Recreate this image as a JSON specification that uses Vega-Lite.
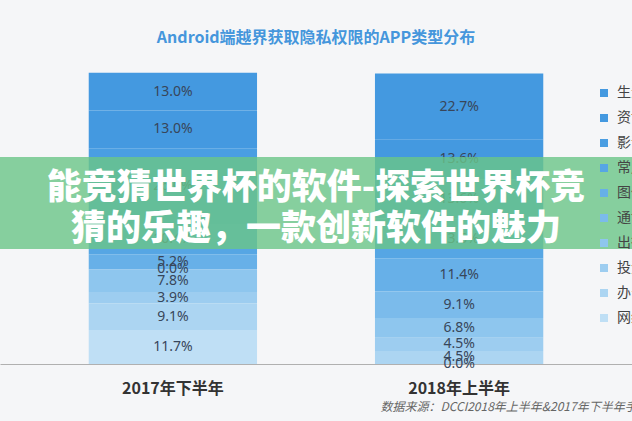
{
  "$schema": "https://vega.github.io/schema/vega-lite/v6.json",
  "width": 632,
  "height": 291,
  "autosize": {"type": "none"},
  "padding": {"top": 73, "bottom": 57, "left": 0, "right": 0},
  "background": "#f5f6f8",
  "title": {
    "text": "Android端越界获取隐私权限的APP类型分布",
    "anchor": "middle",
    "font": "Noto Sans CJK SC",
    "fontSize": 16,
    "fontWeight": "bold",
    "color": "#4596dc",
    "offset": 27
  },
  "config": {"view": {"stroke": null}},
  "datasets": {
    "share": [
      {"period": "2017年下半年", "cat": "生活服务", "idx": 1, "pct": 13.0, "label": "13.0%"},
      {"period": "2017年下半年", "cat": "资讯阅读", "idx": 2, "pct": 13.0, "label": "13.0%"},
      {"period": "2017年下半年", "cat": "影音视听", "idx": 3, "pct": 26.0, "label": "26.0%"},
      {"period": "2017年下半年", "cat": "常用工具", "idx": 4, "pct": 10.4, "label": "10.4%"},
      {"period": "2017年下半年", "cat": "图像拍照", "idx": 5, "pct": 5.2, "label": "5.2%"},
      {"period": "2017年下半年", "cat": "通讯社交", "idx": 6, "pct": 0.0, "label": "0.0%"},
      {"period": "2017年下半年", "cat": "出行导航", "idx": 7, "pct": 7.8, "label": "7.8%"},
      {"period": "2017年下半年", "cat": "投资理财", "idx": 8, "pct": 3.9, "label": "3.9%"},
      {"period": "2017年下半年", "cat": "办公商务", "idx": 9, "pct": 9.1, "label": "9.1%"},
      {"period": "2017年下半年", "cat": "网络购物", "idx": 10, "pct": 11.7, "label": "11.7%"},
      {"period": "2018年上半年", "cat": "生活服务", "idx": 1, "pct": 22.7, "label": "22.7%"},
      {"period": "2018年上半年", "cat": "资讯阅读", "idx": 2, "pct": 13.6, "label": "13.6%"},
      {"period": "2018年上半年", "cat": "影音视听", "idx": 3, "pct": 13.6, "label": "13.6%"},
      {"period": "2018年上半年", "cat": "常用工具", "idx": 4, "pct": 13.6, "label": "13.6%"},
      {"period": "2018年上半年", "cat": "图像拍照", "idx": 5, "pct": 11.4, "label": "11.4%"},
      {"period": "2018年上半年", "cat": "通讯社交", "idx": 6, "pct": 9.1, "label": "9.1%"},
      {"period": "2018年上半年", "cat": "出行导航", "idx": 7, "pct": 6.8, "label": "6.8%"},
      {"period": "2018年上半年", "cat": "投资理财", "idx": 8, "pct": 4.5, "label": "4.5%"},
      {"period": "2018年上半年", "cat": "办公商务", "idx": 9, "pct": 4.5, "label": "4.5%"},
      {"period": "2018年上半年", "cat": "网络购物", "idx": 10, "pct": 0.0, "label": "0.0%"}
    ],
    "overlay": [
      {"caption": ["能竞猜世界杯的软件-探索世界杯竞", "猜的乐趣，一款创新软件的魅力"]}
    ]
  },
  "layer": [
    {
      "data": {"name": "share"},
      "encoding": {
        "x": {
          "field": "period",
          "type": "nominal",
          "sort": null,
          "scale": {"paddingInner": 0.412, "paddingOuter": 0.31},
          "axis": {
            "title": "数据来源：DCCI2018年上半年&2017年下半年手机APP隐私权限调查",
            "titleFont": "Noto Sans CJK SC",
            "titleFontSize": 12,
            "titleFontStyle": "italic",
            "titleFontWeight": "normal",
            "titleColor": "#666666",
            "titleX": 380,
            "titleY": 42,
            "titleAlign": "left",
            "titleAnchor": "start",
            "titleBaseline": "middle",
            "labelAngle": 0,
            "labelFont": "Noto Sans CJK SC",
            "labelFontSize": 16,
            "labelFontWeight": "bold",
            "labelColor": "#333333",
            "labelPadding": 16,
            "ticks": false,
            "domainColor": "#b0b0b0",
            "grid": false
          }
        }
      },
      "layer": [
        {
          "mark": {"type": "bar"},
          "encoding": {
            "y": {
              "field": "pct",
              "type": "quantitative",
              "stack": "zero",
              "scale": {"domain": [0, 100], "nice": false},
              "axis": null
            },
            "color": {
              "field": "cat",
              "type": "nominal",
              "scale": {
                "domain": ["生活服务", "资讯阅读", "影音视听", "常用工具", "图像拍照", "通讯社交", "出行导航", "投资理财", "办公商务", "网络购物"],
                "range": ["#4499e0", "#4499e0", "#4a9ee2", "#56a6e4", "#67b0e8", "#7bbbeb", "#8ec6ee", "#9dcdf0", "#acd5f2", "#bfdff5"]
              },
              "legend": {
                "title": null,
                "orient": "none",
                "legendX": 597,
                "legendY": 13,
                "symbolType": "square",
                "symbolSize": 64,
                "symbolStrokeWidth": 0,
                "labelFont": "Noto Sans CJK SC",
                "labelFontSize": 14,
                "labelColor": "#444444",
                "rowPadding": 11,
                "labelOffset": 6,
                "zindex": 0
              }
            },
            "order": {"field": "idx", "sort": "descending"}
          }
        },
        {
          "transform": [
            {"stack": "pct", "groupby": ["period"], "sort": [{"field": "idx", "order": "descending"}], "as": ["y0", "y1"]},
            {"calculate": "(datum.y0 + datum.y1) / 2", "as": "ymid"}
          ],
          "mark": {"type": "text", "font": "Noto Sans", "fontSize": 14, "color": "#38465a", "baseline": "middle"},
          "encoding": {
            "y": {"field": "ymid", "type": "quantitative", "axis": null},
            "text": {"field": "label"}
          }
        }
      ]
    },
    {
      "data": {"name": "overlay"},
      "mark": {"type": "rect", "color": "#6ac587", "opacity": 0.8},
      "encoding": {
        "y": {"datum": 71.1, "type": "quantitative", "axis": null},
        "y2": {"datum": 39.5}
      }
    },
    {
      "data": {"name": "overlay"},
      "mark": {"type": "text", "font": "Noto Sans CJK SC", "fontSize": 35, "fontWeight": 900, "color": "#ffffff", "lineHeight": 41, "baseline": "middle", "align": "center"},
      "encoding": {
        "y": {"datum": 60.5, "type": "quantitative", "axis": null},
        "text": {"field": "caption"}
      }
    }
  ]
}
